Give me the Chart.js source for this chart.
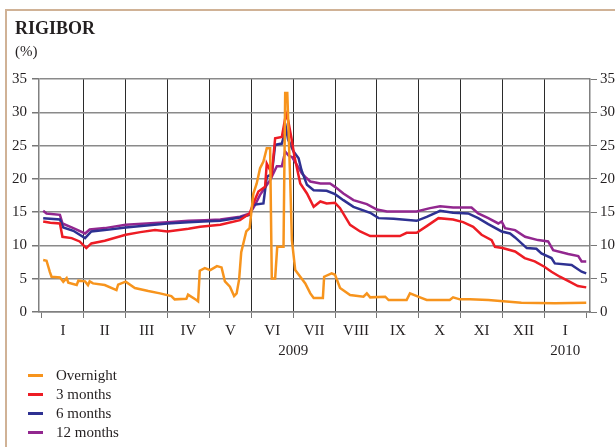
<!DOCTYPE html>
<html>
<head>
<meta charset="utf-8">
<title>RIGIBOR</title>
<script src="https://cdn.jsdelivr.net/npm/chart.js@4.4.1/dist/chart.umd.min.js"></script>
<style>
  body { margin: 0; background: #fff; }
  #wrap { position: relative; width: 615px; height: 447px; overflow: hidden;
          font-family: "Liberation Serif", "Times New Roman", serif; color: #231f20; }
  #frame { position: absolute; left: 5px; top: 9px; right: -10px; bottom: -10px;
           border-top: 2px solid #d0b296; border-left: 2px solid #d0b296; }
  canvas { position: absolute; left: 0; top: 0; }
  #title { position: absolute; left: 15px; top: 19px; font-size: 18px; line-height: 18px; font-weight: bold; }
  #unit { position: absolute; left: 15px; top: 44px; font-size: 15px; line-height: 15px; }
  #legend { position: absolute; left: 28px; top: 366px; font-size: 15px; }
  .row { height: 19px; line-height: 19px; display: flex; align-items: center; }
  .sw { width: 15px; height: 2.5px; margin-right: 13px; }
</style>
</head>
<body>
<div id="wrap">
  <div id="frame"></div>
  <canvas id="rigibor" width="615" height="447"></canvas>
  <div id="title">RIGIBOR</div>
  <div id="unit">(%)</div>
  <div id="legend"></div>
</div>
<script>
// x values are months since 1 Jan 2009 (0 = start of Jan 2009, 13 = end of Jan 2010)
const monthTicks = [0, 1, 2, 3, 4, 5, 6, 7, 8, 9, 10, 11, 12, 13];
const monthLabels = ['I', 'II', 'III', 'IV', 'V', 'VI', 'VII', 'VIII', 'IX', 'X', 'XI', 'XII', 'I'];
const yearAt = [6, 12.5];
const yearNames = ['2009', '2010'];

const overnightX = [0.03,0.11,0.19,0.23,0.43,0.51,0.59,0.63,0.83,0.87,1.03,1.10,1.14,1.22,1.50,1.78,1.82,2.00,2.22,2.54,
  2.82,3.09,3.17,3.45,3.49,3.69,3.73,3.77,3.89,4.02,4.18,4.29,4.37,4.49,4.59,4.65,4.71,4.76,4.88,4.96,
  5.05,5.13,5.21,5.29,5.37,5.45,5.49,5.57,5.62,5.77,5.81,5.86,5.93,5.97,6.05,6.17,6.29,6.41,6.49,6.71,
  6.74,6.92,7.00,7.12,7.36,7.68,7.76,7.84,8.20,8.28,8.71,8.79,9.03,9.19,9.74,9.82,9.98,10.22,10.66,11.45,12.25,13.00];
const overnightY = [7.8,7.7,6.0,5.3,5.2,4.55,5.1,4.4,4.05,4.7,4.6,4.05,4.6,4.3,4.05,3.3,4.1,4.55,3.6,3.15,
  2.8,2.4,1.9,2.0,2.6,1.8,1.6,6.2,6.6,6.3,6.9,6.7,4.6,3.8,2.4,2.8,4.9,9.0,12.1,12.6,
  17.8,19.3,21.6,22.6,24.6,24.6,5.05,5.05,9.8,9.8,32.9,32.9,19.8,10.8,6.3,5.3,4.3,2.8,2.1,2.1,
  5.3,5.8,5.6,3.6,2.55,2.3,2.8,2.2,2.3,1.8,1.8,2.8,2.2,1.8,1.8,2.2,1.9,1.9,1.8,1.4,1.3,1.4];

const m3X = [0.03,0.20,0.43,0.49,0.71,0.90,1.06,1.18,1.50,2.00,2.35,2.70,3.00,3.50,3.78,4.26,4.73,4.96,5.05,5.17,
  5.33,5.37,5.49,5.57,5.73,5.83,5.88,5.96,6.03,6.17,6.33,6.49,6.65,6.80,7.00,7.12,7.36,7.60,7.84,8.00,
  8.55,8.71,8.95,9.19,9.47,9.82,10.06,10.30,10.50,10.74,10.82,11.00,11.30,11.53,11.77,12.00,12.17,12.37,12.60,12.80,13.00];
const m3Y = [13.6,13.4,13.3,11.3,11.1,10.6,9.6,10.3,10.7,11.6,12.0,12.3,12.1,12.5,12.8,13.1,13.8,14.8,16.3,18.1,
  18.8,22.3,20.8,26.1,26.3,29.8,28.8,26.1,23.4,19.3,17.8,15.8,16.6,16.3,16.4,15.6,13.1,12.1,11.4,11.4,
  11.4,11.9,11.9,12.9,14.1,13.9,13.5,12.8,11.6,10.8,9.8,9.6,9.1,8.1,7.6,6.8,6.05,5.3,4.55,3.9,3.7];

const m6X = [0.03,0.43,0.51,0.75,1.03,1.18,1.50,2.00,2.50,3.00,3.50,3.85,4.26,4.73,4.97,5.05,5.29,5.37,5.49,5.57,
  5.73,5.83,5.88,6.01,6.13,6.20,6.33,6.49,6.80,7.00,7.20,7.44,7.84,8.04,8.40,8.95,9.19,9.51,9.82,10.18,
  10.42,10.66,10.98,11.18,11.30,11.58,11.81,11.93,12.17,12.25,12.65,12.89,13.00];
const m6Y = [14.1,13.9,12.7,12.2,11.1,12.1,12.3,12.7,13.0,13.3,13.5,13.6,13.7,14.2,14.6,16.1,16.3,20.3,20.7,25.1,
  25.3,27.6,25.9,24.1,23.1,21.3,19.1,18.3,18.2,17.7,16.8,15.8,14.9,14.1,14.0,13.7,14.3,15.2,14.9,14.8,
  14.1,13.2,12.1,11.8,11.2,9.6,9.5,8.8,8.1,7.3,7.05,6.05,5.8];

const m12X = [0.03,0.11,0.43,0.49,0.75,1.03,1.14,1.50,2.00,2.50,3.00,3.50,3.89,4.26,4.73,4.97,5.09,5.21,5.33,5.45,
  5.61,5.73,5.81,5.89,5.97,6.09,6.21,6.29,6.41,6.65,6.88,7.00,7.20,7.44,7.76,8.00,8.24,8.95,9.27,9.51,
  9.82,10.26,10.42,10.66,10.90,10.98,11.06,11.30,11.54,11.85,12.09,12.21,12.57,12.81,12.89,13.00];
const m12Y = [15.2,14.8,14.6,13.3,12.6,11.8,12.4,12.6,13.1,13.3,13.5,13.7,13.8,13.9,14.3,14.8,16.1,17.6,18.7,19.8,
  21.9,21.9,24.1,23.5,23.3,22.1,20.8,20.3,19.6,19.3,19.3,18.8,17.8,16.8,16.2,15.4,15.1,15.1,15.6,15.9,
  15.7,15.7,14.8,14.1,13.3,13.6,12.6,12.3,11.3,10.8,10.6,9.3,8.7,8.4,7.6,7.6];

const seriesNames = ['Overnight', '3 months', '6 months', '12 months'];
const seriesColors = ['#f7941d', '#ed1c24', '#2e3192', '#92278f'];
const seriesX = [overnightX, m3X, m6X, m12X];
const seriesY = [overnightY, m3Y, m6Y, m12Y];

const FONT = { family: '"Liberation Serif", "Times New Roman", serif', size: 15 };
const TEXT = '#231f20';

// year captions under the month axis
const yearPlugin = {
  id: 'years',
  afterDraw(chart) {
    const x = chart.scales.x;
    const ctx = chart.ctx;
    ctx.save();
    ctx.font = '15px ' + FONT.family;
    ctx.fillStyle = TEXT;
    ctx.textAlign = 'center';
    ctx.textBaseline = 'alphabetic';
    yearAt.forEach((v, i) => ctx.fillText(yearNames[i], x.getPixelForValue(v), 355));
    ctx.restore();
  }
};

const datasets = seriesNames.map((name, i) => ({
  label: name,
  data: seriesX[i].map((x, j) => ({ x: x, y: seriesY[i][j] })),
  borderColor: seriesColors[i],
  borderWidth: 2.5,
  pointRadius: 0,
  tension: 0,
  fill: false
}));

new Chart(document.getElementById('rigibor'), {
  type: 'line',
  data: { datasets: datasets },
  options: {
    responsive: false,
    animation: false,
    layout: { padding: { top: 79, left: 0, right: 0, bottom: 0 } },
    plugins: { legend: { display: false }, tooltip: { enabled: false } },
    scales: {
      x: {
        type: 'linear',
        min: -0.07,
        max: 13.09,
        afterBuildTicks: axis => { axis.ticks = monthTicks.map(v => ({ value: v })); },
        afterFit: s => { s.height = 135; },
        ticks: {
          callback: (v, i) => monthLabels[i] || '',
          labelOffset: 21,
          autoSkip: false,
          maxRotation: 0,
          padding: 4,
          font: FONT,
          color: TEXT
        },
        grid: {
          color: c => (c.tick && (c.tick.value === 0 || c.tick.value === 13)) ? 'rgba(0,0,0,0)' : '#2b2b2b',
          lineWidth: 1,
          tickColor: '#777',
          tickLength: 6
        },
        border: { color: '#808080', width: 1.5 }
      },
      y: {
        position: 'left',
        min: 0,
        max: 35,
        afterFit: s => { s.width = 39; },
        ticks: { stepSize: 5, padding: 5, font: FONT, color: TEXT },
        grid: { color: '#8a8a8a', lineWidth: 1.5, tickColor: '#777', tickLength: 7 },
        border: { color: '#808080', width: 1.5 }
      },
      y2: {
        position: 'right',
        min: 0,
        max: 35,
        afterFit: s => { s.width = 25; },
        ticks: { stepSize: 5, padding: 3, font: FONT, color: TEXT },
        grid: { drawOnChartArea: false, tickColor: '#777', tickLength: 7 },
        border: { color: '#808080', width: 1.5 }
      }
    }
  },
  plugins: [yearPlugin]
});

// legend rows
const legend = document.getElementById('legend');
seriesNames.forEach((name, i) => {
  const row = document.createElement('div');
  row.className = 'row';
  row.innerHTML = '<span class="sw" style="background:' + seriesColors[i] + '"></span>' + name;
  legend.appendChild(row);
});
</script>
</body>
</html>
